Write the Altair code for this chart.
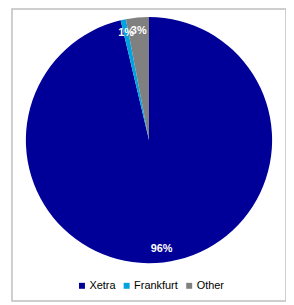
import altair as alt
import pandas as pd

venues = ["Xetra", "Frankfurt", "Other"]
shares = [96.3, 0.7, 3.0]
labels = ["96%", "1%", "3%"]
colors = ["#000099", "#00A3E0", "#808080"]

df = pd.DataFrame({"venue": venues, "share": shares, "label": labels, "idx": list(range(len(venues)))})

color = alt.Color("venue:N", scale=alt.Scale(domain=venues, range=colors),
                  legend=alt.Legend(orient="none", direction="horizontal", legendX=65, legendY=273,
                                    title=None, symbolType="square", symbolSize=36,
                                    symbolStrokeWidth=0, labelFontSize=11, labelFont="Liberation Sans",
                                    labelColor="#000000", columnPadding=5, symbolOffset=0, labelOffset=2,
                                    padding=0))

base = alt.Chart(df).encode(
    theta=alt.Theta("share:Q", stack=True),
    order=alt.Order("idx:Q"),
    x=alt.value(138), y=alt.value(132),
)

pie = base.mark_arc(outerRadius=124, stroke=None).encode(color=color)
text = base.mark_text(radius=110, color="white", fontSize=11, fontWeight="bold",
                      font="Liberation Sans").encode(text="label:N")

chart = alt.layer(pie, text).properties(
    width=276, height=294, padding={"left": 4, "top": 0, "right": 0, "bottom": 0}
).configure_view(stroke="#BFBFBF", strokeWidth=1.5)

chart.save("out.html", embed_options={"renderer": "svg", "actions": False})
